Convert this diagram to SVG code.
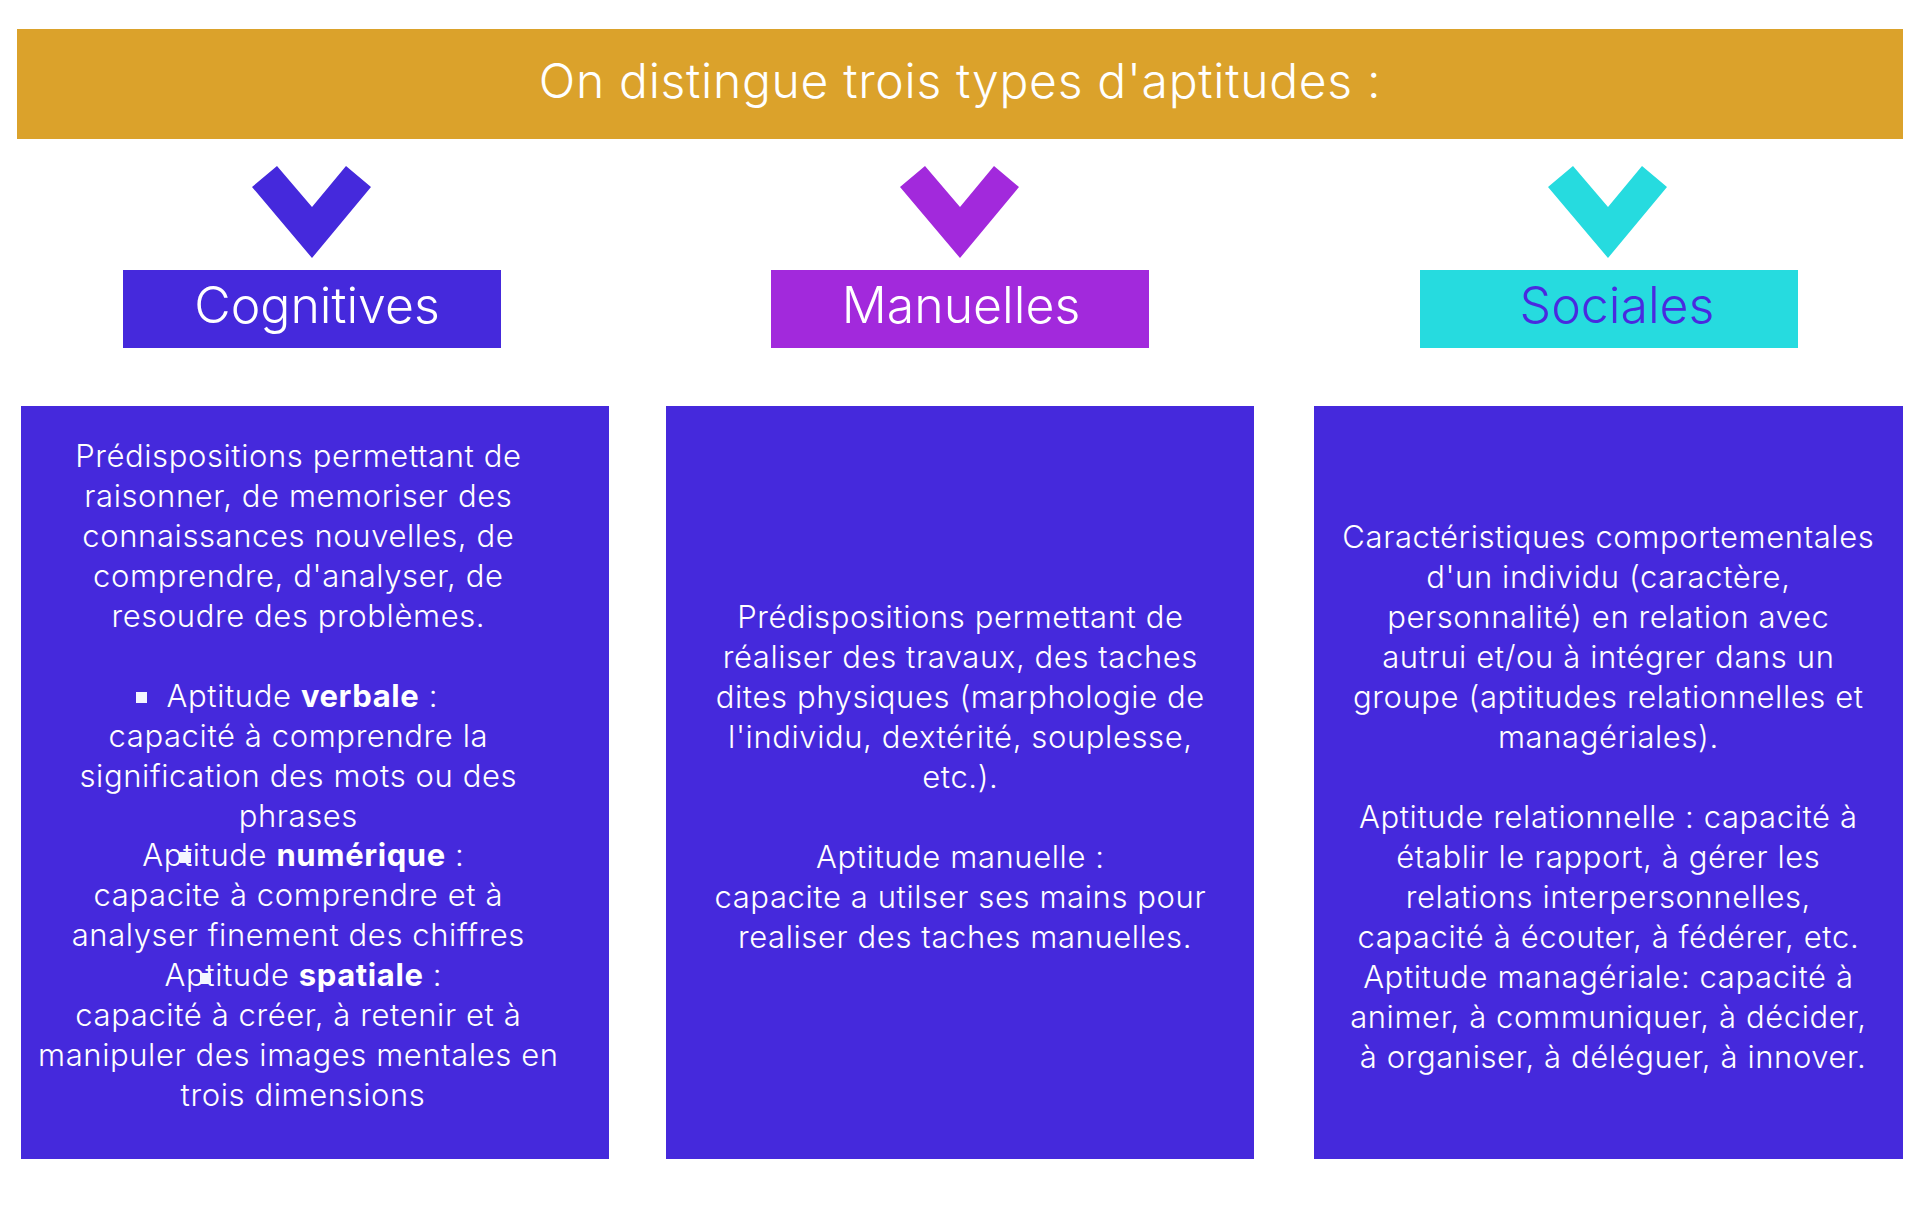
<svg xmlns="http://www.w3.org/2000/svg" width="1920" height="1205" viewBox="0 0 1920 1205">
<style>
  .t { font-family: Inter, "Open Sans", "Liberation Sans", sans-serif; font-weight: 300; fill: #ffffff; text-anchor: middle; }
  .body { font-size: 31px; letter-spacing: 0.6px; }
  .lbl { font-size: 50px; }
  .hd { font-size: 48px; letter-spacing: 0.7px; }
  .b { font-weight: 700; }
  .blue { fill: #4529DC; }
  .purple { fill: #A229DC; }
  .cyan { fill: #26DBDF; }
  .sq { fill: #F4F6FF; }
</style>
<defs>
  <polygon id="chev" points="-60,21 -35,0 0,41 34,0 59,21 0,92"/>
</defs>
<rect width="1920" height="1205" fill="#ffffff"/>

<g id="header">
  <rect x="17" y="29" width="1886" height="110" fill="#DBA22B"/>
  <text class="t hd" x="960" y="98">On distingue trois types d'aptitudes :</text>
</g>

<g id="connectors">
  <use href="#chev" x="312" y="166" class="blue"/>
  <use href="#chev" x="960" y="166" class="purple"/>
  <use href="#chev" x="1608" y="166" class="cyan"/>
</g>

<g id="label-cognitives">
  <rect x="123" y="270" width="378" height="78" class="blue"/>
  <text class="t lbl" x="317" y="323">Cognitives</text>
</g>
<g id="label-manuelles">
  <rect x="771" y="270" width="378" height="78" class="purple"/>
  <text class="t lbl" x="961" y="323">Manuelles</text>
</g>
<g id="label-sociales">
  <rect x="1420" y="270" width="378" height="78" class="cyan"/>
  <text class="t lbl" x="1617" y="323" style="fill:#4A2ADF">Sociales</text>
</g>

<g id="box-cognitives">
  <rect x="21" y="406" width="588" height="753" class="blue"/>
  <text class="t body">
    <tspan x="303" y="467">Prédispositions permettant de</tspan>
    <tspan x="303" y="507">raisonner, de memoriser des</tspan>
    <tspan x="303" y="547">connaissances nouvelles, de</tspan>
    <tspan x="303" y="587">comprendre, d'analyser, de</tspan>
    <tspan x="303" y="627">resoudre des problèmes.</tspan>
    <tspan x="307" y="707">Aptitude <tspan class="b">verbale</tspan> :</tspan>
    <tspan x="303" y="747">capacité à comprendre la</tspan>
    <tspan x="303" y="787">signification des mots ou des</tspan>
    <tspan x="303" y="827">phrases</tspan>
    <tspan x="308" y="866">Aptitude <tspan class="b">numérique</tspan> :</tspan>
    <tspan x="303" y="906">capacite à comprendre et à</tspan>
    <tspan x="303" y="946">analyser finement des chiffres</tspan>
    <tspan x="308" y="986">Aptitude <tspan class="b">spatiale</tspan> :</tspan>
    <tspan x="303" y="1026">capacité à créer, à retenir et à</tspan>
    <tspan x="303" y="1066">manipuler des images mentales en</tspan>
    <tspan x="303" y="1106">trois dimensions</tspan>
  </text>
  <rect x="136" y="692" width="11" height="11" class="sq"/>
  <rect x="180" y="852" width="11" height="11" class="sq"/>
  <rect x="200" y="973" width="11" height="11" class="sq"/>
</g>

<g id="box-manuelles">
  <rect x="666" y="406" width="588" height="753" class="blue"/>
  <text class="t body">
    <tspan x="965" y="628">Prédispositions permettant de</tspan>
    <tspan x="965" y="668">réaliser des travaux, des taches</tspan>
    <tspan x="965" y="708">dites physiques (marphologie de</tspan>
    <tspan x="965" y="748">l'individu, dextérité, souplesse,</tspan>
    <tspan x="965" y="788">etc.).</tspan>
    <tspan x="965" y="868">Aptitude manuelle :</tspan>
    <tspan x="965" y="908">capacite a utilser ses mains pour</tspan>
    <tspan x="965" y="948">realiser des taches manuelles.</tspan>
  </text>
</g>

<g id="box-sociales">
  <rect x="1314" y="406" width="589" height="753" class="blue"/>
  <text class="t body">
    <tspan x="1613" y="548">Caractéristiques comportementales</tspan>
    <tspan x="1613" y="588">d'un individu (caractère,</tspan>
    <tspan x="1613" y="628">personnalité) en relation avec</tspan>
    <tspan x="1613" y="668">autrui et/ou à intégrer dans un</tspan>
    <tspan x="1613" y="708">groupe (aptitudes relationnelles et</tspan>
    <tspan x="1613" y="748">managériales).</tspan>
    <tspan x="1613" y="828">Aptitude relationnelle : capacité à</tspan>
    <tspan x="1613" y="868">établir le rapport, à gérer les</tspan>
    <tspan x="1613" y="908">relations interpersonnelles,</tspan>
    <tspan x="1613" y="948">capacité à écouter, à fédérer, etc.</tspan>
    <tspan x="1613" y="988">Aptitude managériale: capacité à</tspan>
    <tspan x="1613" y="1028">animer, à communiquer, à décider,</tspan>
    <tspan x="1613" y="1068">à organiser, à déléguer, à innover.</tspan>
  </text>
</g>
</svg>
